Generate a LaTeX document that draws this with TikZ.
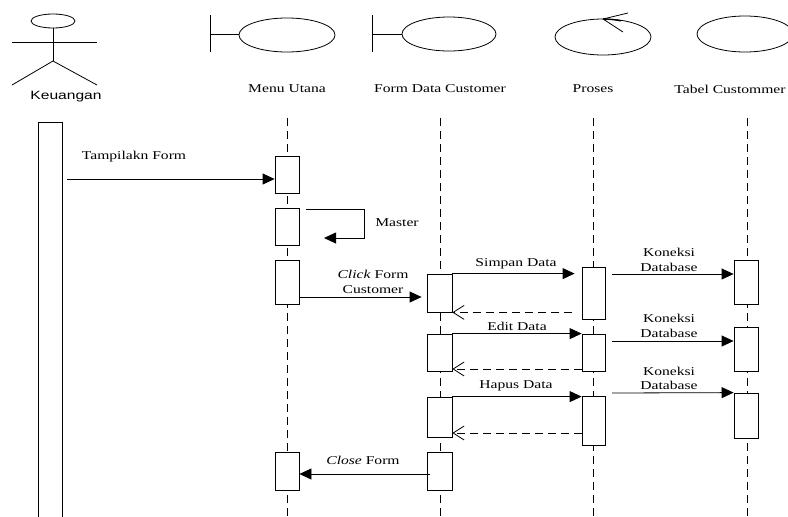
\documentclass[tikz,border=0pt]{standalone}
\usepackage{fontspec}
\usepackage{graphicx}
\setmainfont{Liberation Serif}
\newfontfamily\arialf{Liberation Sans}
\usetikzlibrary{arrows.meta}
\newcommand\sx[1]{\scalebox{1.3}[1]{#1}}
\begin{document}
\begin{tikzpicture}[x=1pt,y=-1pt,
  every path/.style={line width=0.8pt},
  act/.style={draw, fill=white, minimum width=24pt, inner sep=0pt, line width=0.8pt},
  life/.style={dash pattern=on 8pt off 5pt, line width=0.8pt},
  msg/.style={-{Triangle[length=12pt,width=11pt]}, line width=0.8pt},
  ret/.style={dash pattern=on 8pt off 5pt, -{Straight Barb[length=11pt,width=14pt]}, line width=0.8pt},
  lbl/.style={font=\fontsize{12}{14.5}\selectfont, inner sep=0pt, align=center}]
\useasboundingbox (0,0) rectangle (788,517);
% actor
\draw (53,21) ellipse [x radius=22, y radius=7];
\draw (12,42) -- (97,42);
\draw (53,28) -- (53,61);
\draw (12,85) -- (53,61) -- (97,85);
\node[lbl, font=\arialf\fontsize{12}{14.5}\selectfont] (hK) at (66,97) {\sx{Keuangan}};
% boundary Menu Utana
\draw (210,15) -- (210,52);
\draw (210,34) -- (239,34);
\draw (287,35) ellipse [x radius=48, y radius=17];
\node[lbl] (hM) at (287,89) {\sx{Menu Utana}};
% boundary Form Data Customer
\draw (372,15) -- (372,52);
\draw (372,34) -- (402,34);
\draw (449,34) ellipse [x radius=47, y radius=17];
\node[lbl] (hF) at (440,89) {\sx{Form Data Customer}};
% control Proses
\draw (603,37) ellipse [x radius=48, y radius=18];
\draw (603,19) -- (628,13);
\draw (603,19) -- (623,32);
\draw[line width=1.4pt] (603,19) .. controls (610,19.2) and (616,19.8) .. (621,20.8);
\node[lbl] (hP) at (593,89) {\sx{Proses}};
% entity Tabel
\draw (745,34) ellipse [x radius=48, y radius=18];
\node[lbl] (hT) at (730,89) {\sx{Tabel Custommer}};
% lifelines
\coordinate (lMa) at (287,118); \coordinate (lMb) at (287,517);
\coordinate (lFa) at (440,118); \coordinate (lFb) at (440,517);
\coordinate (lPa) at (593,118); \coordinate (lPb) at (593,517);
\coordinate (lTa) at (747,118); \coordinate (lTb) at (747,517);
\draw[life] (lMa) -- (lMb);
\draw[life] (lFa) -- (lFb);
\draw[life] (lPa) -- (lPb);
\draw[life] (lTa) -- (lTb);
% activations
\node[act, minimum height=400pt] (k0) at (50,322) {};
\node[act, minimum height=37pt] (m1) at (287,174.5) {};
\node[act, minimum height=37pt] (m2) at (287,226.5) {};
\node[act, minimum height=44pt] (m3) at (287,282) {};
\node[act, minimum height=38pt] (m4) at (287,471) {};
\node[act, minimum width=25pt, minimum height=38pt] (f1) at (439.5,293) {};
\node[act, minimum width=25pt, minimum height=37pt] (f2) at (439.5,352.5) {};
\node[act, minimum width=25pt, minimum height=40pt] (f3) at (439.5,417) {};
\node[act, minimum width=25pt, minimum height=38pt] (f4) at (439.5,471) {};
\node[act, minimum width=23pt, minimum height=52pt] (p1) at (593.5,293) {};
\node[act, minimum width=23pt, minimum height=37pt] (p2) at (593.5,352.5) {};
\node[act, minimum width=23pt, minimum height=49pt] (p3) at (593.5,420.5) {};
\node[act, minimum height=44pt] (t1) at (746,282) {};
\node[act, minimum height=44pt] (t2) at (746,349) {};
\node[act, minimum height=45pt] (t3) at (746,415.5) {};
% messages
\coordinate (a1) at (67,179);
\draw[msg] (a1) -- (m1.west |- a1);
\node[lbl] (lTam) at (134,157) {\sx{Tampilakn Form}};
\coordinate (ms1) at (306,209); \coordinate (ms2) at (364,238); \coordinate (ms3) at (324,238);
\draw[msg] (ms1) -| (ms2) -- (ms3);
\node[lbl] (lMas) at (397,223) {\sx{Master}};
\coordinate (c1) at (299,297);
\draw[msg, shorten >=5pt] (c1) -- (f1.west |- c1);
\node[lbl] (lCl) at (373,282) {\sx{\textit{Click} Form}\\\sx{Customer}};
\draw[msg, shorten >=7pt] (f1.north east) -- (p1.west |- f1.north);
\node[lbl] (lSim) at (516,264) {\sx{Simpan Data}};
\draw[ret, shorten <=10pt] (p1.west |- f1.south) -- (f1.south east);
\coordinate (k1) at (612,274);
\draw[msg] (k1) -- (t1.west |- k1);
\node[lbl] (lK1) at (669,260) {\sx{Koneksi}\\\sx{Database}};
\draw[msg] (f2.north east) -- (p2.north west);
\node[lbl] (lEd) at (517,326) {\sx{Edit Data}};
\coordinate (r2) at (582,369);
\draw[ret] (r2) -- (f2.east |- r2);
\coordinate (k2) at (612,341);
\draw[msg] (k2) -- (t2.west |- k2);
\node[lbl] (lK2) at (669,326) {\sx{Koneksi}\\\sx{Database}};
\draw[msg] (f3.north east) -- (p3.west |- f3.north);
\node[lbl] (lHa) at (516,386) {\sx{Hapus Data}};
\coordinate (r3) at (582,433);
\draw[ret] (r3) -- (f3.east |- r3);
\coordinate (k3) at (612,393);
\draw[msg] (k3) -- (t3.north west);
\node[lbl] (lK3) at (669,378.5) {\sx{Koneksi}\\\sx{Database}};
\coordinate (cl) at (430,474);
\draw[msg] (cl) -- (m4.east |- cl);
\node[lbl] (lCf) at (363,460) {\sx{\textit{Close} Form}};
\end{tikzpicture}
\end{document}
